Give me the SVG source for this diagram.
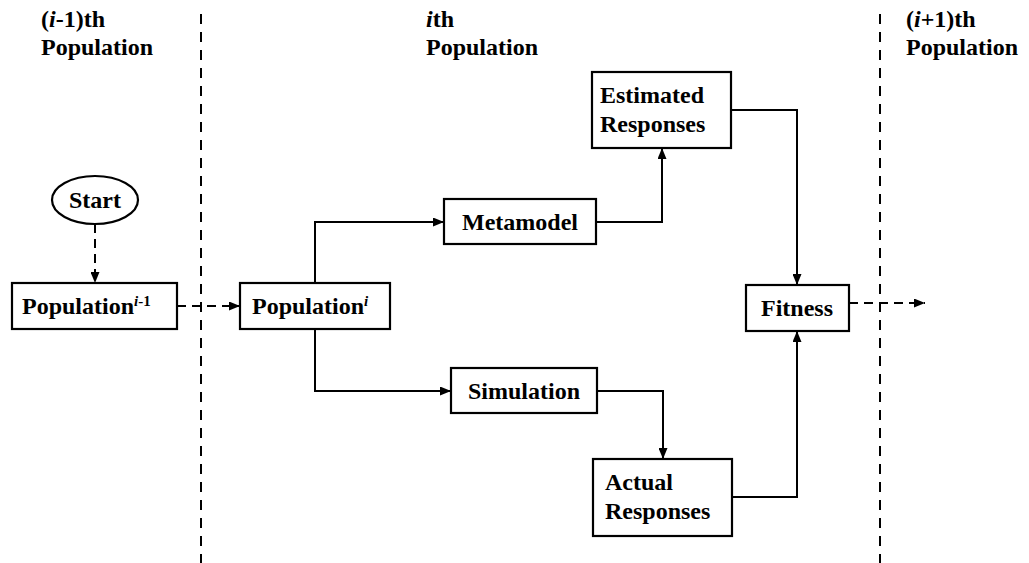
<svg xmlns="http://www.w3.org/2000/svg" width="1029" height="563" viewBox="0 0 1029 563">
<defs>
<marker id="ah" markerWidth="11" markerHeight="9" refX="11" refY="4.5" orient="auto" markerUnits="userSpaceOnUse">
<path d="M0,0 L11,4.5 L0,9 Z" fill="#000"/>
</marker>
<style>
.box{fill:#fff;stroke:#000;stroke-width:2.2}
.sep{stroke:#000;stroke-width:2;stroke-dasharray:10 8;fill:none}
.c{stroke:#000;stroke-width:2;fill:none}
.cd{stroke:#000;stroke-width:2;fill:none;stroke-dasharray:9 6}
</style>
</defs>
<rect width="1029" height="563" fill="#fff"/>
<g id="separators">
<line class="sep" x1="201" y1="14" x2="201" y2="563"/>
<line class="sep" x1="880" y1="14" x2="880" y2="563"/>
</g>
<g font-family="Times New Roman, Liberation Serif, Tinos, serif" font-weight="700" font-size="24" fill="#000">
<g id="headers">
<text x="41" y="27">(<tspan font-style="italic">i</tspan>-1)th</text>
<text x="41" y="55">Population</text>
<text x="426" y="27"><tspan font-style="italic">i</tspan>th</text>
<text x="426" y="55">Population</text>
<text x="906" y="27">(<tspan font-style="italic">i</tspan>+1)th</text>
<text x="906" y="55">Population</text>
</g>
<g id="connectors">
<line class="cd" x1="95" y1="224" x2="95" y2="283" marker-end="url(#ah)"/>
<line class="cd" x1="177" y1="306" x2="240" y2="306" marker-end="url(#ah)"/>
<polyline class="c" points="315,283 315,222 444,222" marker-end="url(#ah)"/>
<polyline class="c" points="315,329 315,391 451,391" marker-end="url(#ah)"/>
<polyline class="c" points="596,222 662,222 662,148" marker-end="url(#ah)"/>
<polyline class="c" points="597,391 663,391 663,459" marker-end="url(#ah)"/>
<polyline class="c" points="731,110 797,110 797,285" marker-end="url(#ah)"/>
<polyline class="c" points="732,497 797,497 797,331" marker-end="url(#ah)"/>
<line class="cd" x1="849" y1="303" x2="925" y2="303" marker-end="url(#ah)"/>
</g>
<g id="start">
<ellipse class="box" cx="95" cy="200" rx="43" ry="24"/>
<text x="95" y="208" text-anchor="middle">Start</text>
</g>
<g id="pop-prev">
<rect class="box" x="12" y="283" width="165" height="46"/>
<text x="22" y="314">Population<tspan font-size="15" dy="-8"><tspan font-style="italic">i</tspan>-1</tspan></text>
</g>
<g id="pop-cur">
<rect class="box" x="240" y="283" width="150" height="46"/>
<text x="252" y="314">Population<tspan font-size="15" dy="-8" font-style="italic">i</tspan></text>
</g>
<g id="metamodel">
<rect class="box" x="444" y="199" width="152" height="45"/>
<text x="520" y="230" text-anchor="middle">Metamodel</text>
</g>
<g id="estimated">
<rect class="box" x="592" y="72" width="139" height="76"/>
<text x="600" y="103">Estimated</text>
<text x="600" y="132">Responses</text>
</g>
<g id="fitness">
<rect class="box" x="746" y="285" width="103" height="46"/>
<text x="797" y="316" text-anchor="middle">Fitness</text>
</g>
<g id="simulation">
<rect class="box" x="451" y="368" width="146" height="45"/>
<text x="524" y="399" text-anchor="middle">Simulation</text>
</g>
<g id="actual">
<rect class="box" x="593" y="459" width="139" height="77"/>
<text x="605" y="490">Actual</text>
<text x="605" y="519">Responses</text>
</g>
</g>
</svg>
